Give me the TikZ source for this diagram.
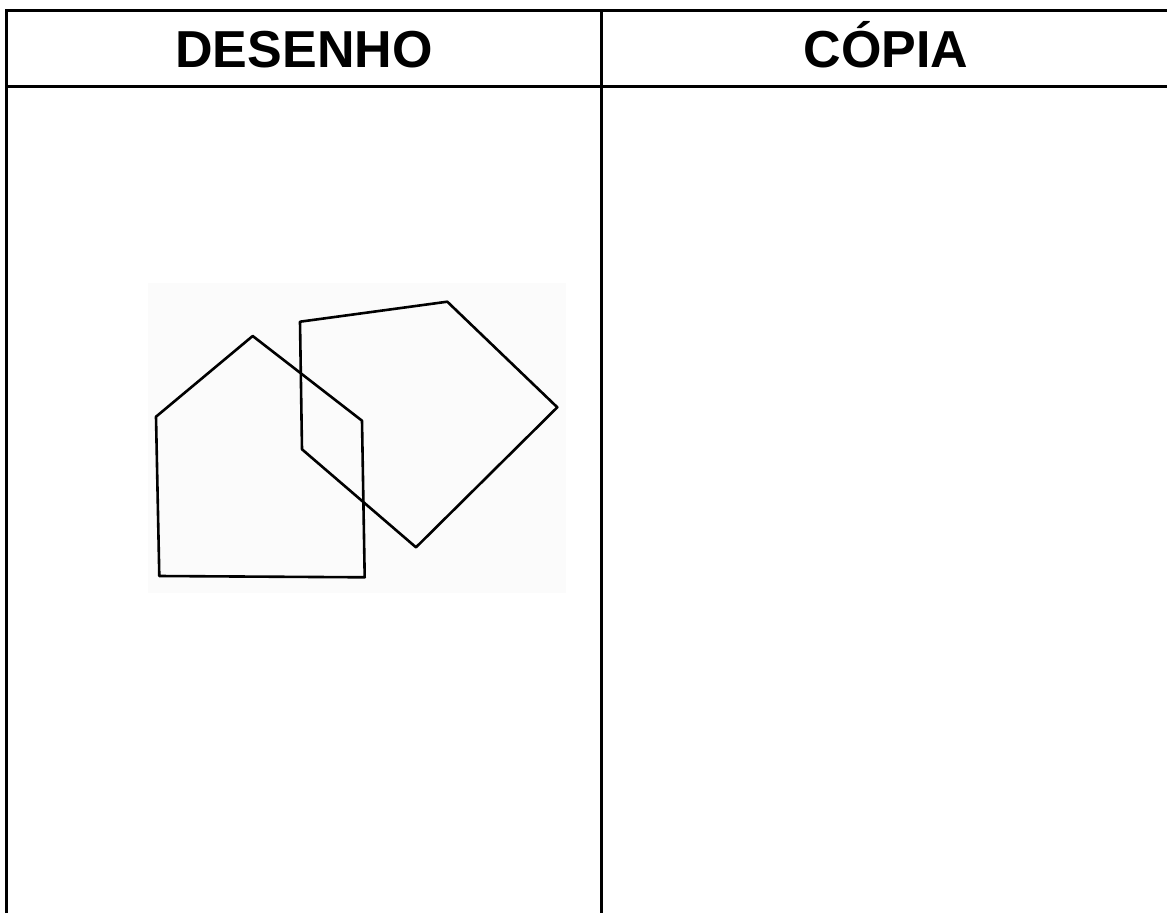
\documentclass[tikz,border=0pt]{standalone}
\usepackage{fontspec}
\setmainfont{Liberation Sans}
\begin{document}
\begin{tikzpicture}[x=1pt, y=-1pt,
    rule/.style={line width=3pt},
    figline/.style={line width=2.6pt, line join=round},
    head/.style={font=\fontsize{52}{60}\selectfont\bfseries, inner sep=0pt, anchor=base}]
  \useasboundingbox (0,0) rectangle (1167,913);
  % table
  \draw[rule] (6,913) -- (6,10) -- (1167,10);
  \draw[rule] (6,86) -- (1167,86);
  \draw[rule] (601,10) -- (601,913);
  \node[head] (desenho) at (304,67) {DESENHO};
  \node[head] (copia) at (886,67) {CÓPIA};
  % scanned drawing
  \fill[white!98.5!black] (148,283) rectangle (566,593);
  \draw[figline] (252.7,336) -- (156,416.7) -- (159.3,576)
      -- (364.7,577.3) -- (362,420.7) -- cycle;
  \draw[figline] (300,321.7) -- (447.3,301.7) -- (557.3,407.3)
      -- (416,547.3) -- (302,449.3) -- cycle;
\end{tikzpicture}
\end{document}
